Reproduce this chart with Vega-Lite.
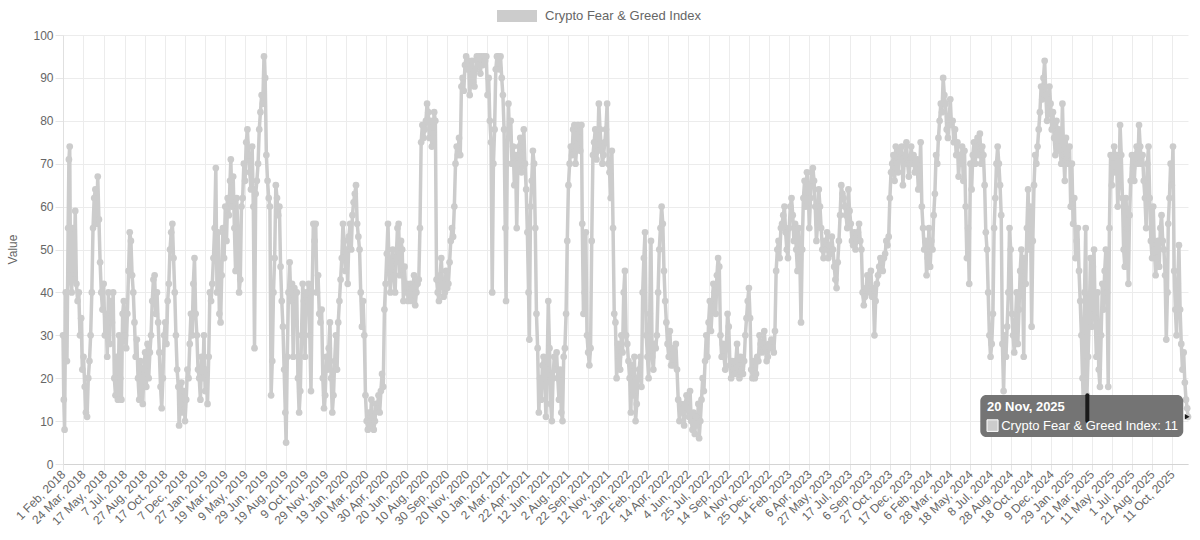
{
"$schema": "https://vega.github.io/schema/vega-lite/v6.json",
"width": 1125,
"height": 429,
"autosize": {"type": "none"},
"padding": {"left": 63, "top": 35, "right": 12, "bottom": 76},
"background": "white",
"config": {"view": {"stroke": null}, "font": "Liberation Sans", "axis": {"labelOverlap": false}, "axisX": {"labelOverlap": false}},
"datasets": {
"fg": [
{"d":"2018-02-01","v":30},{"d":"2018-02-03","v":15},{"d":"2018-02-05","v":8},{"d":"2018-02-08","v":40},{"d":"2018-02-11","v":24},{"d":"2018-02-14","v":55},{"d":"2018-02-16","v":71},{"d":"2018-02-18","v":74},{"d":"2018-02-20","v":44},{"d":"2018-02-23","v":40},{"d":"2018-02-26","v":55},
{"d":"2018-03-01","v":43},{"d":"2018-03-04","v":59},{"d":"2018-03-07","v":42},{"d":"2018-03-10","v":38},{"d":"2018-03-13","v":40},{"d":"2018-03-16","v":30},{"d":"2018-03-19","v":34},{"d":"2018-03-22","v":22},{"d":"2018-03-25","v":25},{"d":"2018-03-28","v":18},{"d":"2018-03-31","v":12},
{"d":"2018-04-03","v":11},{"d":"2018-04-06","v":20},{"d":"2018-04-09","v":24},{"d":"2018-04-12","v":30},{"d":"2018-04-15","v":40},{"d":"2018-04-18","v":55},{"d":"2018-04-21","v":62},{"d":"2018-04-24","v":64},{"d":"2018-04-27","v":56},{"d":"2018-04-30","v":67},
{"d":"2018-05-03","v":57},{"d":"2018-05-06","v":47},{"d":"2018-05-09","v":40},{"d":"2018-05-12","v":36},{"d":"2018-05-15","v":42},{"d":"2018-05-18","v":30},{"d":"2018-05-21","v":35},{"d":"2018-05-24","v":25},{"d":"2018-05-27","v":40},{"d":"2018-05-30","v":28},
{"d":"2018-06-02","v":38},{"d":"2018-06-05","v":33},{"d":"2018-06-08","v":40},{"d":"2018-06-11","v":20},{"d":"2018-06-14","v":16},{"d":"2018-06-17","v":25},{"d":"2018-06-20","v":15},{"d":"2018-06-23","v":30},{"d":"2018-06-26","v":20},{"d":"2018-06-29","v":15},
{"d":"2018-07-02","v":35},{"d":"2018-07-05","v":38},{"d":"2018-07-08","v":30},{"d":"2018-07-11","v":27},{"d":"2018-07-14","v":35},{"d":"2018-07-17","v":45},{"d":"2018-07-20","v":54},{"d":"2018-07-23","v":52},{"d":"2018-07-26","v":44},{"d":"2018-07-29","v":40},
{"d":"2018-08-01","v":33},{"d":"2018-08-04","v":25},{"d":"2018-08-07","v":29},{"d":"2018-08-10","v":20},{"d":"2018-08-13","v":15},{"d":"2018-08-16","v":24},{"d":"2018-08-19","v":20},{"d":"2018-08-22","v":14},{"d":"2018-08-25","v":22},{"d":"2018-08-28","v":26},{"d":"2018-08-31","v":18},
{"d":"2018-09-03","v":28},{"d":"2018-09-06","v":20},{"d":"2018-09-09","v":26},{"d":"2018-09-12","v":30},{"d":"2018-09-15","v":38},{"d":"2018-09-18","v":43},{"d":"2018-09-21","v":44},{"d":"2018-09-24","v":35},{"d":"2018-09-27","v":40},{"d":"2018-09-30","v":33},
{"d":"2018-10-03","v":26},{"d":"2018-10-06","v":18},{"d":"2018-10-09","v":13},{"d":"2018-10-12","v":20},{"d":"2018-10-15","v":30},{"d":"2018-10-18","v":33},{"d":"2018-10-21","v":28},{"d":"2018-10-24","v":38},{"d":"2018-10-27","v":42},{"d":"2018-10-30","v":50},
{"d":"2018-11-02","v":54},{"d":"2018-11-05","v":56},{"d":"2018-11-08","v":48},{"d":"2018-11-11","v":40},{"d":"2018-11-14","v":30},{"d":"2018-11-17","v":22},{"d":"2018-11-20","v":18},{"d":"2018-11-22","v":9},{"d":"2018-11-25","v":14},{"d":"2018-11-28","v":19},
{"d":"2018-12-01","v":12},{"d":"2018-12-04","v":17},{"d":"2018-12-07","v":10},{"d":"2018-12-10","v":15},{"d":"2018-12-13","v":22},{"d":"2018-12-16","v":20},{"d":"2018-12-19","v":28},{"d":"2018-12-22","v":35},{"d":"2018-12-25","v":30},{"d":"2018-12-28","v":42},{"d":"2018-12-31","v":48},
{"d":"2019-01-03","v":35},{"d":"2019-01-06","v":30},{"d":"2019-01-09","v":22},{"d":"2019-01-12","v":20},{"d":"2019-01-15","v":15},{"d":"2019-01-18","v":25},{"d":"2019-01-21","v":20},{"d":"2019-01-24","v":30},{"d":"2019-01-27","v":17},{"d":"2019-01-30","v":22},
{"d":"2019-02-02","v":14},{"d":"2019-02-05","v":25},{"d":"2019-02-08","v":40},{"d":"2019-02-11","v":38},{"d":"2019-02-14","v":42},{"d":"2019-02-17","v":48},{"d":"2019-02-20","v":55},{"d":"2019-02-23","v":69},{"d":"2019-02-26","v":40},
{"d":"2019-03-01","v":54},{"d":"2019-03-04","v":35},{"d":"2019-03-07","v":33},{"d":"2019-03-10","v":44},{"d":"2019-03-13","v":55},{"d":"2019-03-16","v":48},{"d":"2019-03-19","v":60},{"d":"2019-03-22","v":52},{"d":"2019-03-25","v":62},{"d":"2019-03-28","v":58},{"d":"2019-03-31","v":66},
{"d":"2019-04-02","v":71},{"d":"2019-04-05","v":60},{"d":"2019-04-08","v":67},{"d":"2019-04-11","v":55},{"d":"2019-04-14","v":45},{"d":"2019-04-17","v":62},{"d":"2019-04-20","v":54},{"d":"2019-04-23","v":40},{"d":"2019-04-26","v":43},{"d":"2019-04-29","v":60},
{"d":"2019-05-02","v":62},{"d":"2019-05-05","v":70},{"d":"2019-05-08","v":66},{"d":"2019-05-11","v":75},{"d":"2019-05-14","v":78},{"d":"2019-05-17","v":72},{"d":"2019-05-20","v":68},{"d":"2019-05-23","v":64},{"d":"2019-05-26","v":74},{"d":"2019-05-29","v":60},
{"d":"2019-06-01","v":27},{"d":"2019-06-04","v":63},{"d":"2019-06-07","v":66},{"d":"2019-06-10","v":70},{"d":"2019-06-13","v":78},{"d":"2019-06-16","v":82},{"d":"2019-06-19","v":86},{"d":"2019-06-22","v":84},{"d":"2019-06-25","v":95},{"d":"2019-06-28","v":90},
{"d":"2019-07-01","v":72},{"d":"2019-07-04","v":66},{"d":"2019-07-07","v":62},{"d":"2019-07-10","v":60},{"d":"2019-07-13","v":16},{"d":"2019-07-16","v":24},{"d":"2019-07-19","v":40},{"d":"2019-07-22","v":48},{"d":"2019-07-25","v":65},{"d":"2019-07-28","v":62},{"d":"2019-07-31","v":58},
{"d":"2019-08-03","v":60},{"d":"2019-08-06","v":46},{"d":"2019-08-09","v":38},{"d":"2019-08-12","v":32},{"d":"2019-08-15","v":22},{"d":"2019-08-18","v":12},{"d":"2019-08-20","v":5},{"d":"2019-08-23","v":25},{"d":"2019-08-26","v":40},{"d":"2019-08-29","v":47},
{"d":"2019-09-01","v":38},{"d":"2019-09-04","v":42},{"d":"2019-09-07","v":25},{"d":"2019-09-10","v":41},{"d":"2019-09-13","v":33},{"d":"2019-09-16","v":40},{"d":"2019-09-19","v":20},{"d":"2019-09-22","v":12},{"d":"2019-09-25","v":17},{"d":"2019-09-28","v":30},
{"d":"2019-10-01","v":42},{"d":"2019-10-04","v":38},{"d":"2019-10-07","v":25},{"d":"2019-10-10","v":40},{"d":"2019-10-13","v":38},{"d":"2019-10-16","v":42},{"d":"2019-10-19","v":30},{"d":"2019-10-22","v":17},{"d":"2019-10-25","v":40},{"d":"2019-10-28","v":56},{"d":"2019-10-31","v":52},
{"d":"2019-11-03","v":56},{"d":"2019-11-06","v":40},{"d":"2019-11-09","v":44},{"d":"2019-11-12","v":35},{"d":"2019-11-15","v":33},{"d":"2019-11-18","v":36},{"d":"2019-11-21","v":20},{"d":"2019-11-24","v":13},{"d":"2019-11-27","v":16},{"d":"2019-11-30","v":25},
{"d":"2019-12-03","v":22},{"d":"2019-12-06","v":27},{"d":"2019-12-09","v":33},{"d":"2019-12-12","v":20},{"d":"2019-12-15","v":12},{"d":"2019-12-18","v":16},{"d":"2019-12-21","v":24},{"d":"2019-12-24","v":30},{"d":"2019-12-27","v":22},{"d":"2019-12-30","v":33},
{"d":"2020-01-02","v":38},{"d":"2020-01-05","v":43},{"d":"2020-01-08","v":48},{"d":"2020-01-11","v":56},{"d":"2020-01-14","v":52},{"d":"2020-01-17","v":45},{"d":"2020-01-20","v":50},{"d":"2020-01-23","v":42},{"d":"2020-01-26","v":53},{"d":"2020-01-29","v":56},
{"d":"2020-02-01","v":50},{"d":"2020-02-04","v":58},{"d":"2020-02-07","v":61},{"d":"2020-02-10","v":63},{"d":"2020-02-13","v":65},{"d":"2020-02-16","v":56},{"d":"2020-02-19","v":53},{"d":"2020-02-22","v":50},{"d":"2020-02-25","v":40},{"d":"2020-02-28","v":32},
{"d":"2020-03-02","v":38},{"d":"2020-03-05","v":30},{"d":"2020-03-08","v":16},{"d":"2020-03-11","v":10},{"d":"2020-03-14","v":8},{"d":"2020-03-17","v":12},{"d":"2020-03-20","v":9},{"d":"2020-03-23","v":15},{"d":"2020-03-26","v":11},{"d":"2020-03-29","v":8},
{"d":"2020-04-01","v":10},{"d":"2020-04-04","v":14},{"d":"2020-04-07","v":13},{"d":"2020-04-10","v":16},{"d":"2020-04-13","v":12},{"d":"2020-04-16","v":17},{"d":"2020-04-19","v":21},{"d":"2020-04-22","v":18},{"d":"2020-04-25","v":36},{"d":"2020-04-28","v":42},
{"d":"2020-05-01","v":49},{"d":"2020-05-04","v":56},{"d":"2020-05-07","v":45},{"d":"2020-05-10","v":40},{"d":"2020-05-13","v":46},{"d":"2020-05-16","v":50},{"d":"2020-05-19","v":44},{"d":"2020-05-22","v":40},{"d":"2020-05-25","v":48},{"d":"2020-05-28","v":55},{"d":"2020-05-31","v":56},
{"d":"2020-06-03","v":44},{"d":"2020-06-06","v":52},{"d":"2020-06-09","v":50},{"d":"2020-06-12","v":38},{"d":"2020-06-15","v":46},{"d":"2020-06-18","v":40},{"d":"2020-06-21","v":42},{"d":"2020-06-24","v":38},{"d":"2020-06-27","v":40},{"d":"2020-06-30","v":42},
{"d":"2020-07-03","v":38},{"d":"2020-07-06","v":41},{"d":"2020-07-09","v":44},{"d":"2020-07-12","v":37},{"d":"2020-07-15","v":40},{"d":"2020-07-18","v":42},{"d":"2020-07-21","v":43},{"d":"2020-07-24","v":55},{"d":"2020-07-27","v":75},{"d":"2020-07-30","v":79},
{"d":"2020-08-02","v":76},{"d":"2020-08-05","v":78},{"d":"2020-08-08","v":80},{"d":"2020-08-11","v":84},{"d":"2020-08-14","v":82},{"d":"2020-08-17","v":76},{"d":"2020-08-20","v":80},{"d":"2020-08-23","v":74},{"d":"2020-08-26","v":77},{"d":"2020-08-29","v":82},
{"d":"2020-09-01","v":80},{"d":"2020-09-04","v":43},{"d":"2020-09-07","v":40},{"d":"2020-09-10","v":38},{"d":"2020-09-13","v":44},{"d":"2020-09-16","v":48},{"d":"2020-09-19","v":42},{"d":"2020-09-22","v":39},{"d":"2020-09-25","v":40},{"d":"2020-09-28","v":45},
{"d":"2020-10-01","v":41},{"d":"2020-10-04","v":42},{"d":"2020-10-07","v":47},{"d":"2020-10-10","v":52},{"d":"2020-10-13","v":55},{"d":"2020-10-16","v":53},{"d":"2020-10-19","v":60},{"d":"2020-10-22","v":70},{"d":"2020-10-25","v":74},{"d":"2020-10-28","v":72},{"d":"2020-10-31","v":76},
{"d":"2020-11-03","v":72},{"d":"2020-11-06","v":88},{"d":"2020-11-09","v":90},{"d":"2020-11-12","v":87},{"d":"2020-11-15","v":93},{"d":"2020-11-18","v":95},{"d":"2020-11-21","v":92},{"d":"2020-11-24","v":94},{"d":"2020-11-27","v":86},{"d":"2020-11-30","v":90},
{"d":"2020-12-03","v":94},{"d":"2020-12-06","v":89},{"d":"2020-12-09","v":88},{"d":"2020-12-12","v":92},{"d":"2020-12-15","v":95},{"d":"2020-12-18","v":93},{"d":"2020-12-21","v":95},{"d":"2020-12-24","v":91},{"d":"2020-12-27","v":95},{"d":"2020-12-30","v":93},
{"d":"2021-01-02","v":95},{"d":"2021-01-05","v":94},{"d":"2021-01-08","v":95},{"d":"2021-01-11","v":86},{"d":"2021-01-14","v":90},{"d":"2021-01-17","v":80},{"d":"2021-01-20","v":75},{"d":"2021-01-23","v":40},{"d":"2021-01-26","v":70},{"d":"2021-01-29","v":78},
{"d":"2021-02-01","v":92},{"d":"2021-02-04","v":95},{"d":"2021-02-07","v":95},{"d":"2021-02-10","v":92},{"d":"2021-02-13","v":95},{"d":"2021-02-16","v":90},{"d":"2021-02-19","v":86},{"d":"2021-02-22","v":78},{"d":"2021-02-25","v":55},{"d":"2021-02-27","v":38},
{"d":"2021-03-02","v":70},{"d":"2021-03-05","v":84},{"d":"2021-03-08","v":76},{"d":"2021-03-11","v":80},{"d":"2021-03-14","v":70},{"d":"2021-03-17","v":74},{"d":"2021-03-20","v":65},{"d":"2021-03-23","v":72},{"d":"2021-03-26","v":55},{"d":"2021-03-29","v":70},
{"d":"2021-04-01","v":74},{"d":"2021-04-04","v":76},{"d":"2021-04-07","v":68},{"d":"2021-04-10","v":72},{"d":"2021-04-13","v":78},{"d":"2021-04-16","v":70},{"d":"2021-04-19","v":64},{"d":"2021-04-22","v":54},{"d":"2021-04-25","v":40},{"d":"2021-04-27","v":29},{"d":"2021-04-30","v":60},
{"d":"2021-05-03","v":66},{"d":"2021-05-06","v":73},{"d":"2021-05-09","v":70},{"d":"2021-05-12","v":55},{"d":"2021-05-15","v":35},{"d":"2021-05-18","v":27},{"d":"2021-05-21","v":12},{"d":"2021-05-24","v":20},{"d":"2021-05-27","v":15},{"d":"2021-05-30","v":23},
{"d":"2021-06-02","v":25},{"d":"2021-06-05","v":20},{"d":"2021-06-08","v":11},{"d":"2021-06-11","v":22},{"d":"2021-06-14","v":38},{"d":"2021-06-17","v":27},{"d":"2021-06-20","v":14},{"d":"2021-06-23","v":10},{"d":"2021-06-26","v":20},{"d":"2021-06-29","v":25},
{"d":"2021-07-02","v":22},{"d":"2021-07-05","v":26},{"d":"2021-07-08","v":20},{"d":"2021-07-11","v":15},{"d":"2021-07-14","v":22},{"d":"2021-07-17","v":12},{"d":"2021-07-20","v":10},{"d":"2021-07-23","v":25},{"d":"2021-07-26","v":27},{"d":"2021-07-29","v":35},
{"d":"2021-08-01","v":52},{"d":"2021-08-04","v":65},{"d":"2021-08-07","v":70},{"d":"2021-08-10","v":74},{"d":"2021-08-13","v":72},{"d":"2021-08-16","v":78},{"d":"2021-08-19","v":79},{"d":"2021-08-22","v":70},{"d":"2021-08-25","v":74},{"d":"2021-08-28","v":79},{"d":"2021-08-31","v":76},
{"d":"2021-09-03","v":73},{"d":"2021-09-06","v":79},{"d":"2021-09-08","v":56},{"d":"2021-09-11","v":35},{"d":"2021-09-14","v":40},{"d":"2021-09-17","v":54},{"d":"2021-09-20","v":30},{"d":"2021-09-23","v":26},{"d":"2021-09-26","v":23},{"d":"2021-09-29","v":27},
{"d":"2021-10-02","v":52},{"d":"2021-10-05","v":72},{"d":"2021-10-08","v":75},{"d":"2021-10-11","v":78},{"d":"2021-10-14","v":71},{"d":"2021-10-17","v":73},{"d":"2021-10-20","v":84},{"d":"2021-10-23","v":78},{"d":"2021-10-26","v":74},{"d":"2021-10-29","v":70},
{"d":"2021-11-01","v":72},{"d":"2021-11-04","v":75},{"d":"2021-11-07","v":78},{"d":"2021-11-10","v":84},{"d":"2021-11-13","v":70},{"d":"2021-11-16","v":68},{"d":"2021-11-19","v":62},{"d":"2021-11-22","v":73},{"d":"2021-11-25","v":55},{"d":"2021-11-28","v":35},
{"d":"2021-12-01","v":33},{"d":"2021-12-04","v":20},{"d":"2021-12-07","v":28},{"d":"2021-12-10","v":25},{"d":"2021-12-13","v":22},{"d":"2021-12-16","v":30},{"d":"2021-12-19","v":26},{"d":"2021-12-22","v":40},{"d":"2021-12-25","v":45},{"d":"2021-12-28","v":30},{"d":"2021-12-31","v":28},
{"d":"2022-01-03","v":24},{"d":"2022-01-06","v":20},{"d":"2022-01-09","v":12},{"d":"2022-01-12","v":23},{"d":"2022-01-15","v":16},{"d":"2022-01-18","v":25},{"d":"2022-01-21","v":10},{"d":"2022-01-24","v":14},{"d":"2022-01-27","v":20},{"d":"2022-01-30","v":22},
{"d":"2022-02-02","v":25},{"d":"2022-02-05","v":18},{"d":"2022-02-08","v":40},{"d":"2022-02-11","v":48},{"d":"2022-02-14","v":54},{"d":"2022-02-17","v":30},{"d":"2022-02-20","v":25},{"d":"2022-02-23","v":20},{"d":"2022-02-26","v":35},
{"d":"2022-03-01","v":52},{"d":"2022-03-04","v":25},{"d":"2022-03-07","v":22},{"d":"2022-03-10","v":28},{"d":"2022-03-13","v":27},{"d":"2022-03-16","v":30},{"d":"2022-03-19","v":40},{"d":"2022-03-22","v":50},{"d":"2022-03-25","v":55},{"d":"2022-03-28","v":60},{"d":"2022-03-31","v":56},
{"d":"2022-04-03","v":45},{"d":"2022-04-06","v":38},{"d":"2022-04-09","v":33},{"d":"2022-04-12","v":28},{"d":"2022-04-15","v":25},{"d":"2022-04-18","v":31},{"d":"2022-04-21","v":23},{"d":"2022-04-24","v":27},{"d":"2022-04-27","v":23},{"d":"2022-04-30","v":26},
{"d":"2022-05-03","v":28},{"d":"2022-05-06","v":22},{"d":"2022-05-09","v":15},{"d":"2022-05-12","v":10},{"d":"2022-05-15","v":14},{"d":"2022-05-18","v":12},{"d":"2022-05-21","v":13},{"d":"2022-05-24","v":9},{"d":"2022-05-27","v":14},{"d":"2022-05-30","v":16},
{"d":"2022-06-02","v":13},{"d":"2022-06-05","v":11},{"d":"2022-06-08","v":17},{"d":"2022-06-11","v":10},{"d":"2022-06-14","v":8},{"d":"2022-06-17","v":12},{"d":"2022-06-20","v":7},{"d":"2022-06-23","v":11},{"d":"2022-06-26","v":9},{"d":"2022-06-29","v":14},
{"d":"2022-07-01","v":6},{"d":"2022-07-04","v":10},{"d":"2022-07-07","v":15},{"d":"2022-07-10","v":20},{"d":"2022-07-13","v":17},{"d":"2022-07-16","v":24},{"d":"2022-07-19","v":30},{"d":"2022-07-22","v":25},{"d":"2022-07-25","v":33},{"d":"2022-07-28","v":38},{"d":"2022-07-31","v":31},
{"d":"2022-08-03","v":36},{"d":"2022-08-06","v":42},{"d":"2022-08-09","v":40},{"d":"2022-08-12","v":35},{"d":"2022-08-15","v":44},{"d":"2022-08-18","v":48},{"d":"2022-08-21","v":46},{"d":"2022-08-24","v":30},{"d":"2022-08-27","v":25},{"d":"2022-08-30","v":28},
{"d":"2022-09-02","v":25},{"d":"2022-09-05","v":22},{"d":"2022-09-08","v":28},{"d":"2022-09-11","v":35},{"d":"2022-09-14","v":32},{"d":"2022-09-17","v":23},{"d":"2022-09-20","v":20},{"d":"2022-09-23","v":24},{"d":"2022-09-26","v":22},{"d":"2022-09-29","v":21},
{"d":"2022-10-02","v":24},{"d":"2022-10-05","v":28},{"d":"2022-10-08","v":22},{"d":"2022-10-11","v":20},{"d":"2022-10-14","v":25},{"d":"2022-10-17","v":22},{"d":"2022-10-20","v":21},{"d":"2022-10-23","v":24},{"d":"2022-10-26","v":30},{"d":"2022-10-29","v":34},
{"d":"2022-11-01","v":38},{"d":"2022-11-04","v":41},{"d":"2022-11-07","v":34},{"d":"2022-11-10","v":22},{"d":"2022-11-13","v":20},{"d":"2022-11-16","v":24},{"d":"2022-11-19","v":20},{"d":"2022-11-22","v":21},{"d":"2022-11-25","v":25},{"d":"2022-11-28","v":24},
{"d":"2022-12-01","v":30},{"d":"2022-12-04","v":28},{"d":"2022-12-07","v":26},{"d":"2022-12-10","v":28},{"d":"2022-12-13","v":31},{"d":"2022-12-16","v":27},{"d":"2022-12-19","v":24},{"d":"2022-12-22","v":25},{"d":"2022-12-25","v":28},{"d":"2022-12-28","v":27},{"d":"2022-12-31","v":29},
{"d":"2023-01-03","v":27},{"d":"2023-01-06","v":26},{"d":"2023-01-09","v":31},{"d":"2023-01-12","v":45},{"d":"2023-01-15","v":50},{"d":"2023-01-18","v":52},{"d":"2023-01-21","v":48},{"d":"2023-01-24","v":55},{"d":"2023-01-27","v":56},{"d":"2023-01-30","v":58},
{"d":"2023-02-02","v":60},{"d":"2023-02-05","v":54},{"d":"2023-02-08","v":50},{"d":"2023-02-11","v":48},{"d":"2023-02-14","v":55},{"d":"2023-02-17","v":60},{"d":"2023-02-20","v":62},{"d":"2023-02-23","v":58},{"d":"2023-02-26","v":52},
{"d":"2023-03-01","v":56},{"d":"2023-03-04","v":50},{"d":"2023-03-07","v":45},{"d":"2023-03-10","v":55},{"d":"2023-03-13","v":48},{"d":"2023-03-16","v":33},{"d":"2023-03-19","v":50},{"d":"2023-03-22","v":62},{"d":"2023-03-25","v":66},{"d":"2023-03-28","v":60},{"d":"2023-03-31","v":68},
{"d":"2023-04-03","v":65},{"d":"2023-04-06","v":55},{"d":"2023-04-09","v":62},{"d":"2023-04-12","v":68},{"d":"2023-04-15","v":69},{"d":"2023-04-18","v":66},{"d":"2023-04-21","v":60},{"d":"2023-04-24","v":52},{"d":"2023-04-27","v":56},{"d":"2023-04-30","v":64},
{"d":"2023-05-03","v":60},{"d":"2023-05-06","v":55},{"d":"2023-05-09","v":50},{"d":"2023-05-12","v":48},{"d":"2023-05-15","v":52},{"d":"2023-05-18","v":50},{"d":"2023-05-21","v":54},{"d":"2023-05-24","v":48},{"d":"2023-05-27","v":51},{"d":"2023-05-30","v":49},
{"d":"2023-06-02","v":53},{"d":"2023-06-05","v":50},{"d":"2023-06-08","v":46},{"d":"2023-06-11","v":43},{"d":"2023-06-14","v":41},{"d":"2023-06-17","v":47},{"d":"2023-06-20","v":52},{"d":"2023-06-23","v":58},{"d":"2023-06-26","v":65},{"d":"2023-06-29","v":63},
{"d":"2023-07-02","v":62},{"d":"2023-07-05","v":60},{"d":"2023-07-08","v":58},{"d":"2023-07-11","v":55},{"d":"2023-07-14","v":64},{"d":"2023-07-17","v":59},{"d":"2023-07-20","v":56},{"d":"2023-07-23","v":52},{"d":"2023-07-26","v":51},{"d":"2023-07-29","v":54},
{"d":"2023-08-01","v":50},{"d":"2023-08-04","v":52},{"d":"2023-08-07","v":54},{"d":"2023-08-10","v":56},{"d":"2023-08-13","v":52},{"d":"2023-08-16","v":50},{"d":"2023-08-19","v":40},{"d":"2023-08-22","v":37},{"d":"2023-08-25","v":39},{"d":"2023-08-28","v":41},{"d":"2023-08-31","v":44},
{"d":"2023-09-03","v":43},{"d":"2023-09-06","v":40},{"d":"2023-09-09","v":45},{"d":"2023-09-12","v":39},{"d":"2023-09-15","v":41},{"d":"2023-09-18","v":30},{"d":"2023-09-21","v":38},{"d":"2023-09-24","v":42},{"d":"2023-09-27","v":44},{"d":"2023-09-30","v":46},
{"d":"2023-10-03","v":48},{"d":"2023-10-06","v":47},{"d":"2023-10-09","v":45},{"d":"2023-10-12","v":48},{"d":"2023-10-15","v":49},{"d":"2023-10-18","v":52},{"d":"2023-10-21","v":51},{"d":"2023-10-24","v":53},{"d":"2023-10-27","v":62},{"d":"2023-10-30","v":68},
{"d":"2023-11-02","v":70},{"d":"2023-11-05","v":72},{"d":"2023-11-08","v":66},{"d":"2023-11-11","v":74},{"d":"2023-11-14","v":70},{"d":"2023-11-17","v":68},{"d":"2023-11-20","v":73},{"d":"2023-11-23","v":71},{"d":"2023-11-26","v":74},{"d":"2023-11-29","v":65},
{"d":"2023-12-02","v":70},{"d":"2023-12-05","v":72},{"d":"2023-12-08","v":75},{"d":"2023-12-11","v":70},{"d":"2023-12-14","v":67},{"d":"2023-12-17","v":70},{"d":"2023-12-20","v":74},{"d":"2023-12-23","v":70},{"d":"2023-12-26","v":72},{"d":"2023-12-29","v":68},
{"d":"2024-01-01","v":70},{"d":"2024-01-04","v":71},{"d":"2024-01-07","v":64},{"d":"2024-01-10","v":67},{"d":"2024-01-13","v":75},{"d":"2024-01-16","v":60},{"d":"2024-01-19","v":55},{"d":"2024-01-22","v":50},{"d":"2024-01-25","v":52},{"d":"2024-01-28","v":44},{"d":"2024-01-31","v":48},
{"d":"2024-02-03","v":55},{"d":"2024-02-06","v":46},{"d":"2024-02-09","v":52},{"d":"2024-02-12","v":50},{"d":"2024-02-15","v":58},{"d":"2024-02-18","v":63},{"d":"2024-02-21","v":72},{"d":"2024-02-24","v":70},{"d":"2024-02-27","v":76},
{"d":"2024-03-01","v":80},{"d":"2024-03-04","v":84},{"d":"2024-03-07","v":82},{"d":"2024-03-10","v":90},{"d":"2024-03-13","v":86},{"d":"2024-03-16","v":84},{"d":"2024-03-19","v":78},{"d":"2024-03-22","v":76},{"d":"2024-03-25","v":80},{"d":"2024-03-28","v":85},{"d":"2024-03-31","v":79},
{"d":"2024-04-03","v":80},{"d":"2024-04-06","v":75},{"d":"2024-04-09","v":78},{"d":"2024-04-12","v":72},{"d":"2024-04-15","v":75},{"d":"2024-04-18","v":67},{"d":"2024-04-21","v":72},{"d":"2024-04-24","v":70},{"d":"2024-04-27","v":74},{"d":"2024-04-30","v":66},
{"d":"2024-05-03","v":73},{"d":"2024-05-06","v":60},{"d":"2024-05-09","v":48},{"d":"2024-05-12","v":55},{"d":"2024-05-15","v":42},{"d":"2024-05-18","v":70},{"d":"2024-05-21","v":64},{"d":"2024-05-24","v":72},{"d":"2024-05-27","v":75},{"d":"2024-05-30","v":70},
{"d":"2024-06-02","v":74},{"d":"2024-06-05","v":76},{"d":"2024-06-08","v":72},{"d":"2024-06-11","v":77},{"d":"2024-06-14","v":70},{"d":"2024-06-17","v":74},{"d":"2024-06-20","v":72},{"d":"2024-06-23","v":65},{"d":"2024-06-26","v":54},{"d":"2024-06-29","v":50},
{"d":"2024-07-02","v":40},{"d":"2024-07-05","v":30},{"d":"2024-07-08","v":25},{"d":"2024-07-11","v":28},{"d":"2024-07-14","v":35},{"d":"2024-07-17","v":55},{"d":"2024-07-20","v":62},{"d":"2024-07-23","v":70},{"d":"2024-07-26","v":74},{"d":"2024-07-29","v":70},
{"d":"2024-08-01","v":65},{"d":"2024-08-04","v":58},{"d":"2024-08-07","v":28},{"d":"2024-08-10","v":17},{"d":"2024-08-13","v":30},{"d":"2024-08-16","v":25},{"d":"2024-08-19","v":32},{"d":"2024-08-22","v":40},{"d":"2024-08-25","v":55},{"d":"2024-08-28","v":50},{"d":"2024-08-31","v":35},
{"d":"2024-09-03","v":30},{"d":"2024-09-06","v":26},{"d":"2024-09-09","v":33},{"d":"2024-09-12","v":40},{"d":"2024-09-15","v":28},{"d":"2024-09-18","v":36},{"d":"2024-09-21","v":45},{"d":"2024-09-24","v":50},{"d":"2024-09-27","v":43},{"d":"2024-09-30","v":25},
{"d":"2024-10-02","v":48},{"d":"2024-10-05","v":42},{"d":"2024-10-08","v":55},{"d":"2024-10-11","v":64},{"d":"2024-10-14","v":50},{"d":"2024-10-17","v":60},{"d":"2024-10-20","v":32},{"d":"2024-10-23","v":52},{"d":"2024-10-26","v":65},{"d":"2024-10-29","v":72},
{"d":"2024-11-01","v":70},{"d":"2024-11-04","v":74},{"d":"2024-11-07","v":78},{"d":"2024-11-10","v":82},{"d":"2024-11-13","v":88},{"d":"2024-11-16","v":85},{"d":"2024-11-19","v":90},{"d":"2024-11-22","v":94},{"d":"2024-11-25","v":86},{"d":"2024-11-28","v":80},
{"d":"2024-12-01","v":82},{"d":"2024-12-04","v":88},{"d":"2024-12-07","v":84},{"d":"2024-12-10","v":78},{"d":"2024-12-13","v":82},{"d":"2024-12-16","v":76},{"d":"2024-12-19","v":72},{"d":"2024-12-22","v":80},{"d":"2024-12-25","v":74},{"d":"2024-12-28","v":78},{"d":"2024-12-31","v":73},
{"d":"2025-01-03","v":70},{"d":"2025-01-06","v":84},{"d":"2025-01-09","v":72},{"d":"2025-01-12","v":66},{"d":"2025-01-15","v":76},{"d":"2025-01-18","v":72},{"d":"2025-01-21","v":70},{"d":"2025-01-24","v":74},{"d":"2025-01-27","v":60},{"d":"2025-01-30","v":70},
{"d":"2025-02-02","v":56},{"d":"2025-02-05","v":62},{"d":"2025-02-08","v":48},{"d":"2025-02-11","v":52},{"d":"2025-02-14","v":55},{"d":"2025-02-17","v":45},{"d":"2025-02-20","v":38},{"d":"2025-02-23","v":30},{"d":"2025-02-26","v":20},{"d":"2025-02-28","v":14},
{"d":"2025-03-03","v":40},{"d":"2025-03-06","v":55},{"d":"2025-03-09","v":16},{"d":"2025-03-12","v":25},{"d":"2025-03-15","v":35},{"d":"2025-03-18","v":48},{"d":"2025-03-21","v":32},{"d":"2025-03-24","v":46},{"d":"2025-03-27","v":50},{"d":"2025-03-30","v":34},
{"d":"2025-04-02","v":25},{"d":"2025-04-05","v":40},{"d":"2025-04-08","v":22},{"d":"2025-04-11","v":18},{"d":"2025-04-14","v":30},{"d":"2025-04-17","v":42},{"d":"2025-04-20","v":36},{"d":"2025-04-23","v":45},{"d":"2025-04-26","v":50},{"d":"2025-04-29","v":40},
{"d":"2025-05-02","v":18},{"d":"2025-05-05","v":55},{"d":"2025-05-08","v":72},{"d":"2025-05-11","v":65},{"d":"2025-05-14","v":70},{"d":"2025-05-17","v":74},{"d":"2025-05-20","v":68},{"d":"2025-05-23","v":72},{"d":"2025-05-26","v":60},{"d":"2025-05-29","v":65},
{"d":"2025-06-01","v":79},{"d":"2025-06-04","v":72},{"d":"2025-06-07","v":62},{"d":"2025-06-10","v":50},{"d":"2025-06-13","v":46},{"d":"2025-06-16","v":62},{"d":"2025-06-19","v":55},{"d":"2025-06-22","v":42},{"d":"2025-06-25","v":58},{"d":"2025-06-28","v":66},
{"d":"2025-07-01","v":72},{"d":"2025-07-04","v":69},{"d":"2025-07-07","v":66},{"d":"2025-07-10","v":72},{"d":"2025-07-13","v":74},{"d":"2025-07-16","v":70},{"d":"2025-07-19","v":79},{"d":"2025-07-22","v":74},{"d":"2025-07-25","v":70},{"d":"2025-07-28","v":72},{"d":"2025-07-31","v":66},
{"d":"2025-08-03","v":62},{"d":"2025-08-06","v":55},{"d":"2025-08-09","v":70},{"d":"2025-08-12","v":74},{"d":"2025-08-15","v":62},{"d":"2025-08-18","v":52},{"d":"2025-08-21","v":48},{"d":"2025-08-24","v":60},{"d":"2025-08-27","v":50},{"d":"2025-08-30","v":44},
{"d":"2025-09-02","v":48},{"d":"2025-09-05","v":52},{"d":"2025-09-08","v":46},{"d":"2025-09-11","v":55},{"d":"2025-09-14","v":58},{"d":"2025-09-17","v":52},{"d":"2025-09-20","v":50},{"d":"2025-09-23","v":44},{"d":"2025-09-26","v":29},{"d":"2025-09-29","v":40},
{"d":"2025-10-01","v":56},{"d":"2025-10-04","v":62},{"d":"2025-10-07","v":70},{"d":"2025-10-10","v":65},{"d":"2025-10-13","v":74},{"d":"2025-10-16","v":45},{"d":"2025-10-19","v":36},{"d":"2025-10-22","v":30},{"d":"2025-10-25","v":42},{"d":"2025-10-28","v":51},{"d":"2025-10-31","v":36},
{"d":"2025-11-03","v":28},{"d":"2025-11-06","v":22},{"d":"2025-11-09","v":26},{"d":"2025-11-12","v":19},{"d":"2025-11-15","v":15},{"d":"2025-11-18","v":13},{"d":"2025-11-20","v":11}
]
},
"layer": [
{
"data": {"name": "fg"},
"mark": {"type": "line", "strokeWidth": 3.5, "clip": false, "point": {"filled": true, "size": 45, "opacity": 1}},
"encoding": {
"x": {"field": "d", "type": "temporal",
 "scale": {"type": "utc", "nice": false, "domain": [{"year": 2018, "month": 2, "date": 1, "utc": true}, {"year": 2025, "month": 11, "date": 20, "utc": true}]},
 "axis": {"title": null, "labelExpr": "utcFormat(datum.value, '%-d %b, %Y')", "labelAngle": -45, "labelAlign": "right", "labelBaseline": "middle",
  "labelFont": "Liberation Sans", "labelFontSize": 12, "labelColor": "#666666", "labelPadding": 2, "labelOverlap": false, "labelFlush": false, "labelBound": false,
  "tickCount": 80, "tickSize": 6, "tickColor": "#e6e6e6", "grid": true, "gridColor": "#ececec", "domainColor": "#d4d4d4",
  "values": [
   {"year":2018,"month":2,"date":1,"utc":true},{"year":2018,"month":3,"date":24,"utc":true},{"year":2018,"month":5,"date":17,"utc":true},{"year":2018,"month":7,"date":7,"utc":true},{"year":2018,"month":8,"date":27,"utc":true},{"year":2018,"month":10,"date":17,"utc":true},{"year":2018,"month":12,"date":7,"utc":true},
   {"year":2019,"month":1,"date":27,"utc":true},{"year":2019,"month":3,"date":19,"utc":true},{"year":2019,"month":5,"date":9,"utc":true},{"year":2019,"month":6,"date":29,"utc":true},{"year":2019,"month":8,"date":19,"utc":true},{"year":2019,"month":10,"date":9,"utc":true},{"year":2019,"month":11,"date":29,"utc":true},
   {"year":2020,"month":1,"date":19,"utc":true},{"year":2020,"month":3,"date":10,"utc":true},{"year":2020,"month":4,"date":30,"utc":true},{"year":2020,"month":6,"date":20,"utc":true},{"year":2020,"month":8,"date":10,"utc":true},{"year":2020,"month":9,"date":30,"utc":true},{"year":2020,"month":11,"date":20,"utc":true},
   {"year":2021,"month":1,"date":10,"utc":true},{"year":2021,"month":3,"date":2,"utc":true},{"year":2021,"month":4,"date":22,"utc":true},{"year":2021,"month":6,"date":12,"utc":true},{"year":2021,"month":8,"date":2,"utc":true},{"year":2021,"month":9,"date":22,"utc":true},{"year":2021,"month":11,"date":12,"utc":true},
   {"year":2022,"month":1,"date":2,"utc":true},{"year":2022,"month":2,"date":22,"utc":true},{"year":2022,"month":4,"date":14,"utc":true},{"year":2022,"month":6,"date":4,"utc":true},{"year":2022,"month":7,"date":25,"utc":true},{"year":2022,"month":9,"date":14,"utc":true},{"year":2022,"month":11,"date":4,"utc":true},{"year":2022,"month":12,"date":25,"utc":true},
   {"year":2023,"month":2,"date":14,"utc":true},{"year":2023,"month":4,"date":6,"utc":true},{"year":2023,"month":5,"date":27,"utc":true},{"year":2023,"month":7,"date":17,"utc":true},{"year":2023,"month":9,"date":6,"utc":true},{"year":2023,"month":10,"date":27,"utc":true},{"year":2023,"month":12,"date":17,"utc":true},
   {"year":2024,"month":2,"date":6,"utc":true},{"year":2024,"month":3,"date":28,"utc":true},{"year":2024,"month":5,"date":18,"utc":true},{"year":2024,"month":7,"date":8,"utc":true},{"year":2024,"month":8,"date":28,"utc":true},{"year":2024,"month":10,"date":18,"utc":true},{"year":2024,"month":12,"date":9,"utc":true},
   {"year":2025,"month":1,"date":29,"utc":true},{"year":2025,"month":3,"date":21,"utc":true},{"year":2025,"month":5,"date":11,"utc":true},{"year":2025,"month":7,"date":1,"utc":true},{"year":2025,"month":8,"date":21,"utc":true},{"year":2025,"month":10,"date":11,"utc":true}
  ]}},
"y": {"field": "v", "type": "quantitative", "scale": {"domain": [0, 100], "nice": false},
 "axis": {"title": "Value", "values": [0,10,20,30,40,50,60,70,80,90,100], "labelFont": "Liberation Sans", "labelFontSize": 12, "labelColor": "#666666",
  "labelPadding": 2, "tickSize": 8, "tickColor": "#e6e6e6", "grid": true, "gridColor": "#ececec", "domainColor": "#e0e0e0",
  "titleFont": "Liberation Sans", "titleFontSize": 12, "titleFontWeight": "normal", "titleColor": "#666666",
  "titleX": -51, "titleY": 214, "titleAngle": -90, "titleAlign": "center", "titleBaseline": "middle"}},
"color": {"datum": "Crypto Fear & Greed Index", "type": "nominal", "scale": {"range": ["#cccccc"]},
 "legend": {"title": null, "orient": "none", "legendX": 434, "legendY": -39, "padding": 0, "offset": 0,
  "symbolType": "M-1,-0.3H1V0.3H-1Z", "symbolSize": 1600, "symbolFillColor": "#cccccc", "symbolStrokeColor": "#cccccc", "symbolStrokeWidth": 0, "symbolOpacity": 1,
  "labelFont": "Liberation Sans", "labelFontSize": 13, "labelColor": "#666666", "labelOffset": 8}}
}
},
{
"data": {"values": [{}]},
"mark": {"type": "rect", "fill": "#6f6f6f", "cornerRadius": 6, "opacity": 0.97},
"encoding": {
"x": {"datum": {"year": 2024, "month": 6, "date": 12, "utc": true}, "type": "temporal"},
"x2": {"datum": {"year": 2025, "month": 11, "date": 8, "utc": true}},
"y": {"datum": 16.1, "type": "quantitative"},
"y2": {"datum": 6.3}
}
},
{
"data": {"values": [{}]},
"mark": {"type": "rule", "color": "#1a1a1a", "strokeWidth": 4, "strokeCap": "round"},
"encoding": {
"x": {"datum": {"year": 2025, "month": 3, "date": 10, "utc": true}, "type": "temporal"},
"y": {"datum": 16, "type": "quantitative"},
"y2": {"datum": 10}
}
},
{
"data": {"values": [{}]},
"mark": {"type": "rect", "fill": "#cccccc", "stroke": "#ffffff", "strokeWidth": 1},
"encoding": {
"x": {"datum": {"year": 2024, "month": 6, "date": 29, "utc": true}, "type": "temporal"},
"x2": {"datum": {"year": 2024, "month": 7, "date": 27, "utc": true}},
"y": {"datum": 10.3, "type": "quantitative"},
"y2": {"datum": 7.6}
}
},
{
"data": {"values": [{}]},
"mark": {"type": "text", "text": "20 Nov, 2025", "font": "Liberation Sans", "fontSize": 13, "fontWeight": "bold", "fill": "#ffffff", "align": "left", "baseline": "middle"},
"encoding": {
"x": {"datum": {"year": 2024, "month": 6, "date": 29, "utc": true}, "type": "temporal"},
"y": {"datum": 13.3, "type": "quantitative"}
}
},
{
"data": {"values": [{}]},
"mark": {"type": "text", "text": "Crypto Fear & Greed Index: 11", "font": "Liberation Sans", "fontSize": 13, "fill": "#ffffff", "align": "left", "baseline": "middle"},
"encoding": {
"x": {"datum": {"year": 2024, "month": 8, "date": 4, "utc": true}, "type": "temporal"},
"y": {"datum": 8.9, "type": "quantitative"}
}
},
{
"data": {"values": [{}]},
"mark": {"type": "point", "shape": "triangle-right", "filled": true, "color": "#1a1a1a", "size": 30, "opacity": 1},
"encoding": {
"x": {"datum": {"year": 2025, "month": 11, "date": 18, "utc": true}, "type": "temporal"},
"y": {"datum": 11, "type": "quantitative"}
}
}
]
}
